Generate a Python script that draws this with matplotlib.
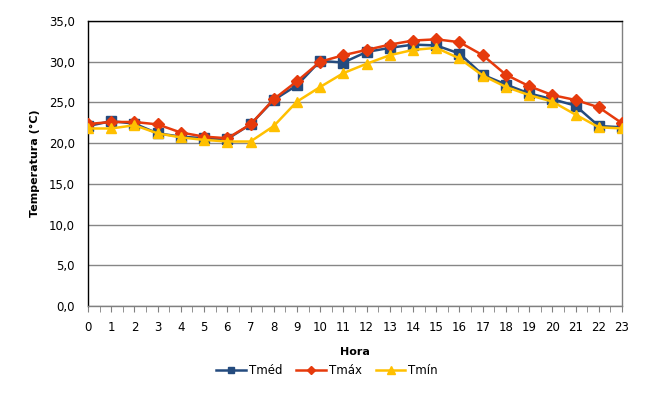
import matplotlib
matplotlib.use("Agg")
import matplotlib.pyplot as plt
from matplotlib.ticker import MultipleLocator, FuncFormatter

horas = list(range(24))
tmed = [22.1, 22.7, 22.4, 21.2, 20.8, 20.6, 20.5, 22.3, 25.3, 27.1, 30.1, 29.9,
        31.2, 31.7, 32.1, 32.0, 31.0, 28.4, 27.2, 26.1, 25.4, 24.6, 22.1, 21.95]
tmax = [22.35, 22.6, 22.6, 22.3, 21.3, 20.8, 20.6, 22.3, 25.4, 27.6, 30.0, 30.8,
        31.45, 32.1, 32.6, 32.75, 32.4, 30.8, 28.4, 27.0, 25.9, 25.3, 24.4, 22.45]
tmin = [21.8, 21.8, 22.2, 21.2, 20.7, 20.4, 20.2, 20.2, 22.1, 25.1, 26.9, 28.6,
        29.75, 30.8, 31.45, 31.7, 30.4, 28.3, 26.9, 25.9, 25.1, 23.5, 21.95, 21.8]
y_ticks = [0, 5, 10, 15, 20, 25, 30, 35]

plt.rcParams['font.family'] = ['DejaVu Sans']
fig = plt.figure(figsize=(6.68, 4.09), dpi=100)
ax = fig.add_axes([88/668, 1-306/409, (622-88)/668, (306-21)/409])

ax.plot(horas, tmed, color='#244B7E', lw=1.8, marker='s', ms=6.5, label='Tméd', zorder=3)
ax.plot(horas, tmax, color='#E63A0C', lw=1.8, marker='D', ms=6, label='Tmáx', zorder=4)
ax.plot(horas, tmin, color='#FFC000', lw=1.8, marker='^', ms=7, label='Tmín', zorder=5)

ax.set_xlim(0, 23)
ax.set_ylim(0, 35)
ax.set_yticks(y_ticks)
ax.yaxis.set_major_formatter(FuncFormatter(lambda v, p: f"{v:.1f}".replace('.', ',')))
ax.set_xticks(horas)
ax.xaxis.set_minor_locator(MultipleLocator(0.5))
ax.tick_params(axis='x', which='both', direction='out', length=4, color='#808080',
               labelsize=8.5, pad=7)
ax.tick_params(axis='y', length=0, labelsize=8.5, pad=9.5)
ax.grid(axis='y', color='#868686', lw=1)
ax.set_axisbelow(True)

ax.spines['top'].set_color('black')
ax.spines['left'].set_color('black')
ax.spines['right'].set_color('#808080')
ax.spines['bottom'].set_color('#808080')
for s in ax.spines.values():
    s.set_linewidth(1)

ax.set_ylabel('Temperatura (°C)', fontsize=8, fontweight='bold', labelpad=6)
ax.set_xlabel('Hora', fontsize=8, fontweight='bold', labelpad=9.5)

leg = fig.legend(loc='center', bbox_to_anchor=(327/668, 1-371/409), ncol=3, frameon=False,
                 fontsize=8.5, handlelength=2.5, columnspacing=1.2, handletextpad=0.25,
                 markerscale=0.75)

fig.savefig('out.png', dpi=100)
